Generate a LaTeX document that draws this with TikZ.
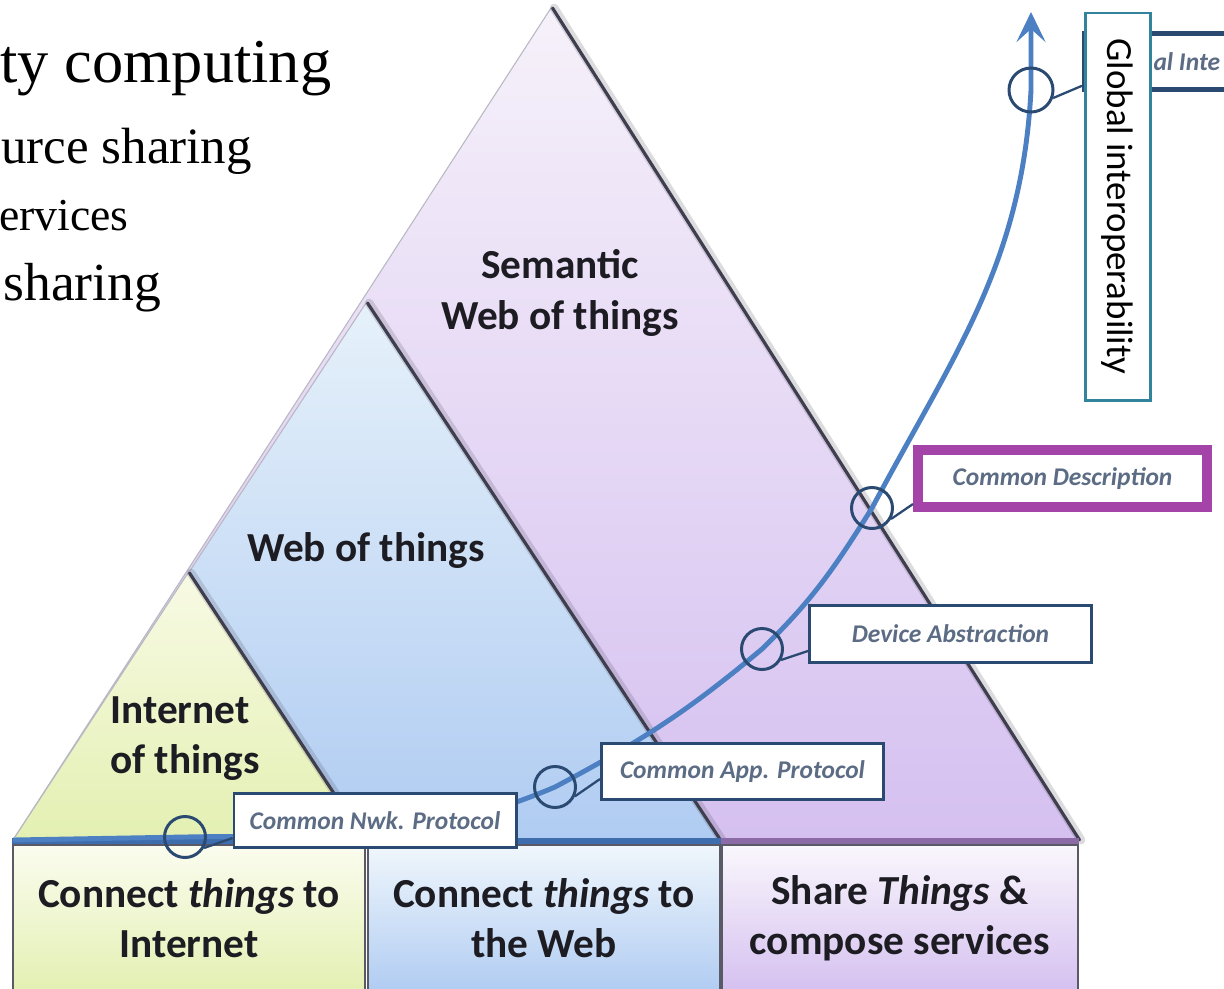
\documentclass[tikz,border=0pt]{standalone}
\usepackage{fontspec}
\setmainfont{Liberation Serif}
\newfontfamily\iwsans{Carlito}
\usetikzlibrary{arrows.meta,calc}

\definecolor{iwink}       {HTML}{1C1C22}
\definecolor{iwnavy}      {HTML}{2B4A72}
\definecolor{iwblue}      {HTML}{4C80C2}
\definecolor{iwcalltext}  {HTML}{5B6C84}
\definecolor{iwteal}      {HTML}{31849B}
\definecolor{iwmagenta}   {HTML}{A443A8}
\definecolor{iwshadow}    {HTML}{3E3E4E}
\definecolor{iwrim}       {HTML}{B8B8C2}
\definecolor{iwframe}     {HTML}{5A5A66}
\definecolor{iwpurpletop} {HTML}{F6F1FA}
\definecolor{iwpurplebot} {HTML}{D5C0F0}
\definecolor{iwbluetop}   {HTML}{E6F1FA}
\definecolor{iwbluebot}   {HTML}{B0CCF2}
\definecolor{iwgreentop}  {HTML}{F8FAE4}
\definecolor{iwgreenbot}  {HTML}{E3F0B2}
\definecolor{iwbandblue}  {HTML}{3E6DAD}
\definecolor{iwbandpurple}{HTML}{8C6AA6}

\tikzset{
  iwlayer/.style={font=\iwsans\bfseries\fontsize{23.5}{28.5}\selectfont, text=iwink,
                  align=center, inner sep=0pt},
  iwstep/.style={draw=iwframe, line width=0.8pt, minimum height=29.4mm, inner sep=0pt,
                 font=\iwsans\bfseries\fontsize{23.5}{28.5}\selectfont, text=iwink, align=center},
  iwcall/.style={draw=iwnavy, line width=1.7pt, fill=white, minimum width=56.4mm,
                 minimum height=11.2mm, inner sep=0pt, text=iwcalltext,
                 font=\iwsans\bfseries\itshape\fontsize{14.5}{17}\selectfont},
  iwring/.style={circle, draw=iwnavy, line width=1.7pt, minimum size=8.2mm, inner sep=0pt},
  iwtick/.style={draw=iwnavy, line width=1.3pt},
  iwslide/.style={anchor=base west, inner sep=0pt, text=black},
  iwshade/.style={draw=iwshadow, line width=1.8pt, line cap=round},
  iwhalo/.style={draw=iwshadow, line width=5pt, opacity=0.18, line cap=round},
  iwedge/.style={draw=iwrim, line width=0.6pt},
  iwcurve/.style={draw=iwblue, line width=2.8pt,
                  -{Stealth[length=6mm,width=5.8mm,inset=2.6mm]}},
}

\begin{document}
\begin{tikzpicture}[x=0.2mm,y=-0.2mm]
  \useasboundingbox (0,0) rectangle (1224,988);
  \fill[white] (0,0) rectangle (1224,988);

  % corners of the three layers
  \coordinate (semtop) at (551,8);
  \coordinate (webtop) at (366,303);
  \coordinate (iottop) at (188,573);
  \coordinate (baseL)  at (13,840);
  \coordinate (semR)   at (1078,840);
  \coordinate (webR)   at (719,840);
  \coordinate (iotR)   at (363,840);

  % layers, back to front
  \shade[top color=iwpurpletop, bottom color=iwpurplebot] (semtop) -- (semR) -- (baseL) -- cycle;
  \draw[iwedge] (semtop) -- (baseL);
  \draw[iwhalo] ([xshift=0.6mm]semtop) -- ([xshift=0.6mm]semR);
  \draw[iwshade] ([xshift=0.3mm]semtop) -- ([xshift=0.3mm]semR);

  \shade[top color=iwbluetop, bottom color=iwbluebot] (webtop) -- (webR) -- (baseL) -- cycle;
  \draw[iwedge] (webtop) -- (baseL);
  \draw[iwhalo] ([xshift=0.6mm]webtop) -- ([xshift=0.6mm]webR);
  \draw[iwshade] ([xshift=0.3mm]webtop) -- ([xshift=0.3mm]webR);

  \shade[top color=iwgreentop, bottom color=iwgreenbot] (iottop) -- (iotR) -- (baseL) -- cycle;
  \draw[iwedge] (iottop) -- (baseL);
  \draw[iwhalo] ([xshift=0.6mm]iottop) -- ([xshift=0.6mm]iotR);
  \draw[iwshade] ([xshift=0.3mm]iottop) -- ([xshift=0.3mm]iotR);

  \node[iwlayer] (semlbl) at (560,293) {Semantic\\Web of things};
  \node[iwlayer] (weblbl) at (366,550) {Web of things};
  \node[iwlayer, align=left, anchor=west] (iotlbl) at (110,739) {Internet\\of things};

  % the three steps underneath
  \node[iwstep, minimum width=70.4mm, top color=iwgreentop!60!white, bottom color=iwgreenbot]
    (stepiot) at (189,918.5) {Connect \textit{things} to\\Internet};
  \node[iwstep, minimum width=70.4mm, top color=iwbluetop!60!white, bottom color=iwbluebot]
    (stepweb) at (544,918.5) {Connect \textit{things} to\\the Web};
  \node[iwstep, minimum width=71.2mm, top color=iwpurpletop!60!white, bottom color=iwpurplebot]
    (stepsem) at (900,918.5) {Share \textit{Things} \&\\compose services};
  \draw[iwbandblue, line width=3.4pt] ([yshift=0.6mm]stepiot.north west) -- ([yshift=0.6mm]stepweb.north east);
  \draw[iwbandpurple, line width=3.4pt] ([yshift=0.6mm]stepsem.north west) -- ([yshift=0.6mm]stepsem.north east);

  % interoperability curve
  \coordinate (p1) at (185,837);
  \coordinate (p2) at (555,787);
  \coordinate (p3) at (762,649);
  \coordinate (p4) at (872,508);
  \coordinate (p5) at (1031,90);
  \coordinate (tip) at (1031,12);
  \draw[iwcurve] (baseL) -- (p1) to[out=1,in=203] (p2) to[out=28,in=220] (p3)
    to[out=44,in=238] (p4) to[out=62,in=267] (p5) -- (tip);

  \node[iwring] (r1) at (p1) {};
  \node[iwring] (r2) at (p2) {};
  \node[iwring] (r3) at (p3) {};
  \node[iwring] (r4) at (p4) {};
  \node[iwring, minimum size=8.8mm] (r5) at (p5) {};

  % callouts
  \node[iwcall, minimum height=10.8mm] (nwk) at (375,820.5) {Common Nwk. Protocol};
  \node[iwcall] (app) at (742.5,771.5) {Common App. Protocol};
  \node[iwcall, minimum height=11.4mm] (dev) at (950.5,634) {Device Abstraction};
  \node[iwcall, draw=iwmagenta, line width=5.7pt, minimum width=57.8mm, minimum height=11.4mm]
    (desc) at (1062.5,478.5) {Common Description};
  \node[iwcall, anchor=west, minimum width=44mm, line width=2.6pt] (glob) at (1082,61.5) {};
  \node[iwcall, draw=none, fill=none, minimum width=0pt, anchor=west] (globtxt) at (1152,62) {al Inte};

  \draw[iwtick] (r1.-30) -- ([yshift=2.2mm]nwk.south west);
  \draw[iwtick] (r2.-25) -- ([yshift=4.4mm]app.south west);
  \draw[iwtick] (r3.-30) -- ([yshift=2.6mm]dev.south west);
  \draw[iwtick] (r4.-30) -- ([yshift=1.6mm]desc.south west);
  \draw[iwtick] (r5.-20) -- ([yshift=1.2mm]glob.south west);

  \node[draw=iwteal, line width=1.7pt, fill=white, rotate=-90, minimum width=77.4mm,
        minimum height=13mm, inner sep=0pt, font=\iwsans\fontsize{21}{24}\selectfont]
    (globaxis) at (1117.5,206.5) {Global interoperability};

  % slide text on the left
  \node[iwslide, font=\fontsize{35.5}{40}\selectfont] (ln1) at (0,82) {ty computing};
  \node[iwslide, font=\fontsize{29}{32}\selectfont] (ln2) at (1,163) {urce sharing};
  \node[iwslide, font=\fontsize{26}{32}\selectfont] (ln3) at (-1,230) {ervices};
  \node[iwslide, font=\fontsize{30.5}{32}\selectfont] (ln4) at (3,300) {sharing};
\end{tikzpicture}
\end{document}
